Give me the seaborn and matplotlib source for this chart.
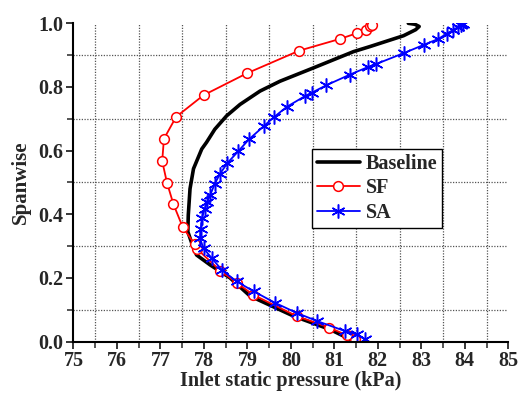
import matplotlib
matplotlib.use("Agg")
import matplotlib.pyplot as plt
import seaborn as sns
import numpy as np
import pandas as pd
from matplotlib.ticker import MultipleLocator

sns.set_style("white")
plt.rcParams['font.family'] = ['Liberation Serif', 'DejaVu Serif']
plt.rcParams['font.weight'] = 'bold'

# Baseline (no markers)
base_p = [81.40, 81.36, 80.90, 80.06, 79.06, 78.60, 78.14, 77.83, 77.72, 77.63, 77.64,
          77.68, 77.76, 77.95, 78.06, 78.25, 78.52, 78.83, 79.29, 79.75, 80.52, 81.44,
          81.82, 82.59, 82.87, 82.95, 82.85, 82.70]
base_s = [0.000, 0.007, 0.038, 0.080, 0.143, 0.200, 0.241, 0.272, 0.309, 0.345, 0.397,
          0.480, 0.543, 0.605, 0.626, 0.667, 0.709, 0.745, 0.787, 0.818, 0.860, 0.911,
          0.927, 0.961, 0.980, 0.990, 0.997, 1.000]

# SF (circles)
sf_p = [81.47, 81.28, 80.88, 80.13, 79.13, 78.75, 78.38, 77.84, 77.79, 77.51, 77.30,
        77.15, 77.04, 77.08, 77.36, 77.99, 78.99, 80.19, 81.13, 81.52, 81.73, 81.82, 81.87]
sf_s = [0.007, 0.020, 0.044, 0.080, 0.147, 0.185, 0.222, 0.291, 0.305, 0.360, 0.431,
        0.499, 0.567, 0.637, 0.706, 0.774, 0.843, 0.914, 0.951, 0.969, 0.980, 0.990, 0.995]

# SA (stars)
sa_p = [81.70, 81.51, 81.24, 80.59, 80.13, 79.63, 79.14, 78.75, 78.41, 78.18, 77.99,
        77.91, 77.93, 77.95, 78.02, 78.08, 78.14, 78.25, 78.37, 78.54, 78.79, 79.04,
        79.37, 79.60, 79.90, 80.32, 80.48, 80.81, 81.36, 81.78, 81.96, 82.59, 83.05,
        83.39, 83.58, 83.73, 83.84, 83.91, 83.96]
sa_s = [0.007, 0.023, 0.033, 0.065, 0.090, 0.122, 0.158, 0.189, 0.225, 0.262, 0.293,
        0.324, 0.355, 0.387, 0.418, 0.439, 0.459, 0.496, 0.527, 0.561, 0.598, 0.636,
        0.676, 0.704, 0.737, 0.771, 0.782, 0.805, 0.839, 0.863, 0.872, 0.906, 0.932,
        0.951, 0.967, 0.979, 0.988, 0.995, 0.998]

x_ticks = [75, 76, 77, 78, 79, 80, 81, 82, 83, 84, 85]
y_ticks = [0.0, 0.2, 0.4, 0.6, 0.8, 1.0]

fig = plt.figure(figsize=(5.19, 3.93), dpi=100)
ax = fig.add_axes([0.1416, 0.1310, 0.8378, 0.8097])

sns.lineplot(x=base_p, y=base_s, sort=False, estimator=None, color='black',
             linewidth=2.6, ax=ax, label='Baseline')
sns.lineplot(x=sf_p, y=sf_s, sort=False, estimator=None, color='red',
             linewidth=1.3, marker='o', markersize=7, markerfacecolor='white',
             markeredgecolor='red', markeredgewidth=1.1, ax=ax, label='SF')
sns.lineplot(x=sa_p, y=sa_s, sort=False, estimator=None, color='blue',
             linewidth=1.3, marker=(6, 2, 0), markersize=10, markeredgecolor='blue',
             markeredgewidth=1.1, ax=ax, label='SA')

ax.set_xlim(75, 85)
ax.set_ylim(0, 1.0)
ax.set_xticks(x_ticks)
ax.set_yticks(y_ticks)
ax.set_xticklabels([str(t) for t in x_ticks], fontsize=14.5, fontweight='bold')
ax.set_yticklabels([f"{t:.1f}" for t in y_ticks], fontsize=14.5, fontweight='bold')
ax.xaxis.set_minor_locator(MultipleLocator(0.5))
ax.yaxis.set_minor_locator(MultipleLocator(0.1))
ax.tick_params(which='major', direction='out', length=5, width=1.3, bottom=True, left=True, pad=2.5)
ax.tick_params(which='minor', direction='out', length=4, width=1.1, bottom=True, left=True)
ax.tick_params(axis='x', which='major', pad=2)

ax.grid(False)
for xv in np.arange(75.5, 85, 1.0):
    ax.axvline(xv, color='#555555', linestyle=(0, (1, 1.2)), linewidth=0.9, zorder=0)
for yv in np.arange(0.1, 1.0, 0.2):
    ax.axhline(yv, color='#555555', linestyle=(0, (1, 1.2)), linewidth=0.9, zorder=0)

for s in ['top', 'right']:
    ax.spines[s].set_visible(False)
for s in ['left', 'bottom']:
    ax.spines[s].set_color('black')
    ax.spines[s].set_linewidth(1.5)

ax.set_xlabel('Inlet static pressure (kPa)', fontsize=14.5, fontweight='bold', labelpad=0)
ax.set_ylabel('Spanwise', fontsize=15, fontweight='bold', labelpad=5)

leg = ax.legend(loc='upper left', bbox_to_anchor=(0.549, 0.605), borderaxespad=0,
                prop={'size': 14.5, 'weight': 'bold'}, handlelength=2.1,
                handletextpad=0.3, labelspacing=0.22, borderpad=0.25,
                fancybox=False, framealpha=1)
leg.get_frame().set_edgecolor('black')
leg.get_frame().set_linewidth(1.0)

fig.savefig('out.png', dpi=100)
